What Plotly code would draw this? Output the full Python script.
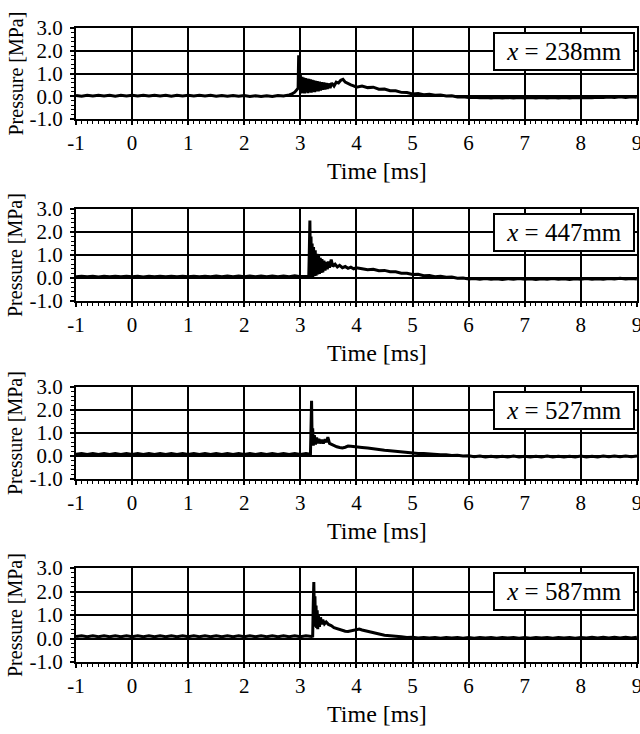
import plotly.graph_objects as go

# ---------------- data ----------------
labels = ["238", "447", "527", "587"]

x_ticks = [-1, 0, 1, 2, 3, 4, 5, 6, 7, 8, 9]
x_ticktext = ["-1", "0", "1", "2", "3", "4", "5", "6", "7", "8", "9"]
y_ticks = [-1, 0, 1, 2, 3]
y_ticktext = ["-1.0", "0.0", "1.0", "2.0", "3.0"]

# Panel 1: x = 238 mm
t1 = [-1.0, -0.9, -0.8, -0.7, -0.6, -0.5, -0.4, -0.3, -0.2, -0.1,
      0.0, 0.1, 0.2, 0.3, 0.4, 0.5, 0.6, 0.7, 0.8, 0.9,
      1.0, 1.1, 1.2, 1.3, 1.4, 1.5, 1.6, 1.7, 1.8, 1.9,
      2.0, 2.1, 2.2, 2.3, 2.4, 2.5, 2.6, 2.7, 2.8,
      2.85, 2.9, 2.93, 2.96, 2.97, 2.98, 3.0, 3.015, 3.03, 3.045, 3.06, 3.075, 3.09, 3.105, 3.12, 3.135,
      3.15, 3.165, 3.18, 3.195, 3.21, 3.225, 3.24, 3.255, 3.27, 3.285, 3.3, 3.32, 3.34, 3.36, 3.38,
      3.4, 3.42, 3.44, 3.46, 3.48, 3.5, 3.53, 3.56, 3.6, 3.64, 3.68, 3.72, 3.76, 3.8, 3.85, 3.9, 3.95,
      4.0, 4.1, 4.2, 4.3, 4.4, 4.5, 4.6, 4.7, 4.8, 4.9,
      5.0, 5.1, 5.2, 5.3, 5.4, 5.5, 5.6, 5.7, 5.8, 5.9,
      6.0, 6.1, 6.2, 6.3, 6.4, 6.5, 6.6, 6.7, 6.8, 6.9,
      7.0, 7.1, 7.2, 7.3, 7.4, 7.5, 7.6, 7.7, 7.8, 7.9,
      8.0, 8.1, 8.2, 8.3, 8.4, 8.5, 8.6, 8.7, 8.8, 8.9, 9.0]
p1 = [0.03, 0.00, 0.04, 0.01, 0.04, 0.01, 0.04, 0.00, 0.04, 0.01,
      0.04, 0.01, 0.04, 0.01, 0.04, 0.01, 0.04, 0.00, 0.04, 0.01,
      0.04, 0.01, 0.04, 0.01, 0.04, 0.00, 0.03, 0.00, 0.03, 0.00,
      0.03, -0.01, 0.02, -0.01, 0.02, -0.01, 0.03, 0.01, 0.06,
      0.10, 0.18, 0.26, 0.35, 1.80, 0.40, 0.95, 0.12, 0.85, 0.15, 0.82, 0.12, 0.80, 0.18, 0.78, 0.14,
      0.76, 0.18, 0.74, 0.16, 0.72, 0.20, 0.70, 0.18, 0.68, 0.22, 0.66, 0.22, 0.64, 0.25, 0.62,
      0.28, 0.60, 0.30, 0.58, 0.32, 0.56, 0.36, 0.58, 0.45, 0.62, 0.58, 0.70, 0.74, 0.62, 0.55, 0.50, 0.46,
      0.40, 0.45, 0.38, 0.40, 0.31, 0.32, 0.24, 0.24, 0.17, 0.16,
      0.10, 0.12, 0.07, 0.09, 0.04, 0.06, 0.01, 0.02, -0.03, -0.02,
      -0.06, -0.04, -0.07, -0.05, -0.08, -0.06, -0.08, -0.05, -0.08, -0.06,
      -0.08, -0.05, -0.08, -0.06, -0.08, -0.05, -0.08, -0.06, -0.08, -0.05,
      -0.07, -0.05, -0.07, -0.04, -0.06, -0.03, -0.05, -0.02, -0.05, -0.02, -0.04]

# Panel 2: x = 447 mm
t2 = [-1.0, -0.9, -0.8, -0.7, -0.6, -0.5, -0.4, -0.3, -0.2, -0.1,
      0.0, 0.1, 0.2, 0.3, 0.4, 0.5, 0.6, 0.7, 0.8, 0.9,
      1.0, 1.1, 1.2, 1.3, 1.4, 1.5, 1.6, 1.7, 1.8, 1.9,
      2.0, 2.1, 2.2, 2.3, 2.4, 2.5, 2.6, 2.7, 2.8, 2.9, 3.0, 3.1,
      3.15, 3.16, 3.17, 3.18, 3.19, 3.2, 3.21, 3.22, 3.235, 3.25, 3.265, 3.28, 3.295, 3.31, 3.325,
      3.34, 3.355, 3.37, 3.385, 3.4, 3.42, 3.44, 3.46, 3.48, 3.5, 3.52, 3.55, 3.58, 3.62, 3.66,
      3.7, 3.75, 3.8, 3.85, 3.9, 3.95,
      4.0, 4.1, 4.2, 4.3, 4.4, 4.5, 4.6, 4.7, 4.8, 4.9,
      5.0, 5.1, 5.2, 5.3, 5.4, 5.5, 5.6, 5.7, 5.8, 5.9,
      6.0, 6.1, 6.2, 6.3, 6.4, 6.5, 6.6, 6.7, 6.8, 6.9,
      7.0, 7.1, 7.2, 7.3, 7.4, 7.5, 7.6, 7.7, 7.8, 7.9,
      8.0, 8.1, 8.2, 8.3, 8.4, 8.5, 8.6, 8.7, 8.8, 8.9, 9.0]
p2 = [0.05, 0.08, 0.05, 0.08, 0.04, 0.08, 0.05, 0.08, 0.05, 0.08,
      0.05, 0.08, 0.04, 0.08, 0.05, 0.08, 0.05, 0.08, 0.05, 0.08,
      0.05, 0.08, 0.05, 0.08, 0.05, 0.09, 0.05, 0.09, 0.06, 0.09,
      0.06, 0.09, 0.06, 0.09, 0.06, 0.09, 0.06, 0.09, 0.06, 0.10, 0.06, 0.09,
      0.08, 1.20, 2.50, 0.30, 1.80, 0.00, 1.50, 0.05, 1.35, 0.08, 1.20, 0.10, 1.05, 0.15, 0.95,
      0.18, 0.88, 0.22, 0.82, 0.25, 0.75, 0.32, 0.70, 0.38, 0.72, 0.45, 0.80, 0.50, 0.60, 0.48, 0.55,
      0.45, 0.50, 0.42, 0.47, 0.40, 0.44,
      0.40, 0.36, 0.38, 0.32, 0.33, 0.27, 0.27, 0.21, 0.21, 0.15,
      0.16, 0.10, 0.11, 0.06, 0.08, 0.03, 0.04, -0.01, 0.00, -0.04,
      -0.02, -0.05, -0.02, -0.05, -0.03, -0.06, -0.03, -0.05, -0.02, -0.05,
      -0.03, -0.06, -0.03, -0.05, -0.02, -0.05, -0.03, -0.06, -0.03, -0.05,
      -0.02, -0.05, -0.03, -0.05, -0.02, -0.04, -0.01, -0.04, -0.02, -0.04, -0.02]

# Panel 3: x = 527 mm
t3 = [-1.0, -0.9, -0.8, -0.7, -0.6, -0.5, -0.4, -0.3, -0.2, -0.1,
      0.0, 0.1, 0.2, 0.3, 0.4, 0.5, 0.6, 0.7, 0.8, 0.9,
      1.0, 1.1, 1.2, 1.3, 1.4, 1.5, 1.6, 1.7, 1.8, 1.9,
      2.0, 2.1, 2.2, 2.3, 2.4, 2.5, 2.6, 2.7, 2.8, 2.9, 3.0, 3.1,
      3.18, 3.19, 3.2, 3.21, 3.22, 3.23, 3.25, 3.27, 3.29, 3.31, 3.33, 3.35, 3.38, 3.41, 3.44,
      3.47, 3.49, 3.52, 3.56, 3.6, 3.65, 3.7, 3.75, 3.8, 3.85, 3.9, 3.95,
      4.0, 4.1, 4.2, 4.3, 4.4, 4.5, 4.6, 4.7, 4.8, 4.9,
      5.0, 5.1, 5.2, 5.3, 5.4, 5.5, 5.6, 5.7, 5.8, 5.9,
      6.0, 6.1, 6.2, 6.3, 6.4, 6.5, 6.6, 6.7, 6.8, 6.9,
      7.0, 7.1, 7.2, 7.3, 7.4, 7.5, 7.6, 7.7, 7.8, 7.9,
      8.0, 8.1, 8.2, 8.3, 8.4, 8.5, 8.6, 8.7, 8.8, 8.9, 9.0]
p3 = [0.07, 0.11, 0.07, 0.11, 0.07, 0.11, 0.07, 0.11, 0.07, 0.11,
      0.07, 0.11, 0.07, 0.11, 0.07, 0.11, 0.07, 0.11, 0.07, 0.11,
      0.07, 0.11, 0.07, 0.11, 0.07, 0.11, 0.07, 0.11, 0.07, 0.11,
      0.07, 0.11, 0.07, 0.11, 0.07, 0.11, 0.07, 0.11, 0.07, 0.11, 0.07, 0.11,
      0.08, 1.00, 2.40, 0.60, 1.20, 0.45, 0.90, 0.50, 0.80, 0.55, 0.75, 0.55, 0.70, 0.55, 0.72,
      0.60, 0.82, 0.55, 0.50, 0.45, 0.40, 0.37, 0.35, 0.38, 0.43, 0.42, 0.40,
      0.40, 0.37, 0.35, 0.31, 0.29, 0.25, 0.23, 0.20, 0.18, 0.15,
      0.14, 0.11, 0.11, 0.08, 0.08, 0.05, 0.05, 0.02, 0.03, 0.00,
      0.01, -0.03, 0.00, -0.04, -0.01, -0.04, -0.01, -0.04, 0.00, -0.04,
      -0.01, -0.04, -0.01, -0.04, 0.00, -0.04, -0.01, -0.04, -0.01, -0.04,
      0.00, -0.04, -0.01, -0.04, 0.00, -0.03, 0.00, -0.03, 0.00, -0.03, 0.00]

# Panel 4: x = 587 mm
t4 = [-1.0, -0.9, -0.8, -0.7, -0.6, -0.5, -0.4, -0.3, -0.2, -0.1,
      0.0, 0.1, 0.2, 0.3, 0.4, 0.5, 0.6, 0.7, 0.8, 0.9,
      1.0, 1.1, 1.2, 1.3, 1.4, 1.5, 1.6, 1.7, 1.8, 1.9,
      2.0, 2.1, 2.2, 2.3, 2.4, 2.5, 2.6, 2.7, 2.8, 2.9, 3.0, 3.1, 3.2,
      3.22, 3.23, 3.24, 3.25, 3.26, 3.27, 3.28, 3.29, 3.3, 3.31, 3.32, 3.34, 3.36, 3.38, 3.4,
      3.43, 3.46, 3.5, 3.55, 3.6, 3.65, 3.7, 3.75, 3.8, 3.85, 3.9, 3.95,
      4.0, 4.05, 4.1, 4.2, 4.3, 4.4, 4.5, 4.6, 4.7, 4.8, 4.9,
      5.0, 5.1, 5.2, 5.3, 5.4, 5.5, 5.6, 5.7, 5.8, 5.9,
      6.0, 6.1, 6.2, 6.3, 6.4, 6.5, 6.6, 6.7, 6.8, 6.9,
      7.0, 7.1, 7.2, 7.3, 7.4, 7.5, 7.6, 7.7, 7.8, 7.9,
      8.0, 8.1, 8.2, 8.3, 8.4, 8.5, 8.6, 8.7, 8.8, 8.9, 9.0]
p4 = [0.08, 0.12, 0.08, 0.12, 0.08, 0.12, 0.08, 0.12, 0.08, 0.12,
      0.08, 0.12, 0.08, 0.12, 0.08, 0.12, 0.08, 0.12, 0.08, 0.12,
      0.08, 0.12, 0.08, 0.12, 0.08, 0.12, 0.08, 0.12, 0.08, 0.12,
      0.08, 0.12, 0.08, 0.12, 0.08, 0.12, 0.08, 0.12, 0.08, 0.12, 0.08, 0.12, 0.09,
      0.10, 1.50, 2.40, 1.00, 1.80, 0.50, 1.40, 0.45, 1.20, 0.40, 1.00, 0.50, 0.90, 0.60, 0.80,
      0.62, 0.70, 0.60, 0.55, 0.46, 0.42, 0.38, 0.33, 0.31, 0.30, 0.32, 0.34,
      0.36, 0.40, 0.36, 0.30, 0.24, 0.20, 0.14, 0.12, 0.08, 0.07, 0.04,
      0.05, 0.02, 0.04, 0.02, 0.04, 0.01, 0.04, 0.02, 0.04, 0.01,
      0.04, 0.01, 0.04, 0.02, 0.04, 0.01, 0.04, 0.02, 0.04, 0.01,
      0.04, 0.01, 0.04, 0.02, 0.04, 0.01, 0.04, 0.02, 0.04, 0.01,
      0.04, 0.02, 0.05, 0.02, 0.05, 0.02, 0.05, 0.02, 0.05, 0.02, 0.05]

series = [(t1, p1), (t2, p2), (t3, p3), (t4, p4)]

x_title = "Time [ms]"
y_title = "Pressure [MPa]"

# ---------------- layout ----------------
W, H = 640, 734
ML, MR = 76, 3
panel_px = [(28, 119), (209, 301), (387, 479), (568, 662)]  # top, bottom in pixels
FONT = "Liberation Serif"

fig = go.Figure()
annotations = []
layout = dict(
    width=W, height=H,
    margin=dict(l=ML, r=MR, t=0, b=0),
    paper_bgcolor="white", plot_bgcolor="white",
    showlegend=False,
    font=dict(family=FONT, color="black", size=20),
)

for i, ((t, p), lab, (top, bot)) in enumerate(zip(series, labels, panel_px)):
    n = "" if i == 0 else str(i + 1)
    fig.add_trace(go.Scatter(x=t, y=p, mode="lines",
                             line=dict(color="black", width=3),
                             xaxis="x" + n, yaxis="y" + n, hoverinfo="skip"))
    d0 = 1 - bot / H
    d1 = 1 - top / H
    layout["xaxis" + n] = dict(
        domain=[0, 1], anchor="y" + n, range=[-1, 9.002],
        tickmode="array", tickvals=x_ticks, ticktext=x_ticktext,
        showgrid=True, gridcolor="black", gridwidth=1.6,
        showline=True, linecolor="black", linewidth=2, mirror=True,
        ticks="outside", ticklen=4, tickwidth=1.5, tickcolor="black",
        minor=dict(dtick=0.1, tick0=0, ticks="outside", ticklen=3, tickwidth=1, tickcolor="black", showgrid=False),
        zeroline=False, automargin=False, ticklabelstandoff=0, ticklabeloverflow="allow",
        tickfont=dict(family=FONT, size=21, color="black"),
    )
    layout["yaxis" + n] = dict(
        domain=[d0, d1], anchor="x" + n, range=[-1, 3],
        tickmode="array", tickvals=y_ticks, ticktext=y_ticktext,
        showgrid=True, gridcolor="black", gridwidth=1.6,
        showline=True, linecolor="black", linewidth=2, mirror=True,
        ticks="outside", ticklen=4, tickwidth=1.5, tickcolor="black",
        minor=dict(dtick=0.2, tick0=0, ticks="outside", ticklen=3, tickwidth=1, tickcolor="black", showgrid=False),
        zeroline=False, automargin=False, ticklabelstandoff=3,
        tickfont=dict(family=FONT, size=21, color="black"),
    )
    # x-axis title
    annotations.append(dict(
        text=x_title, xref="paper", yref="paper",
        x=(377 - ML) / (W - ML - MR), y=1 - (bot + 52) / H,
        xanchor="center", yanchor="middle", showarrow=False,
        font=dict(family=FONT, size=24, color="black")))
    # y-axis title
    annotations.append(dict(
        text=y_title, xref="paper", yref="paper",
        x=(15 - ML) / (W - ML - MR), y=1 - ((top + bot) / 2) / H,
        xanchor="center", yanchor="middle", textangle=-90, showarrow=False,
        font=dict(family=FONT, size=20, color="black")))
    # position box
    annotations.append(dict(
        text="<i>x</i> = " + lab + "mm",
        xref="x" + n + " domain", yref="y" + n + " domain",
        x=0.997, y=0.955, xanchor="right", yanchor="top", showarrow=False,
        bgcolor="white", bordercolor="black", borderwidth=2, borderpad=2,
        width=134, height=31,
        font=dict(family=FONT, size=25, color="black")))

layout["annotations"] = annotations
fig.update_layout(**layout)
fig.write_html("out.html")
